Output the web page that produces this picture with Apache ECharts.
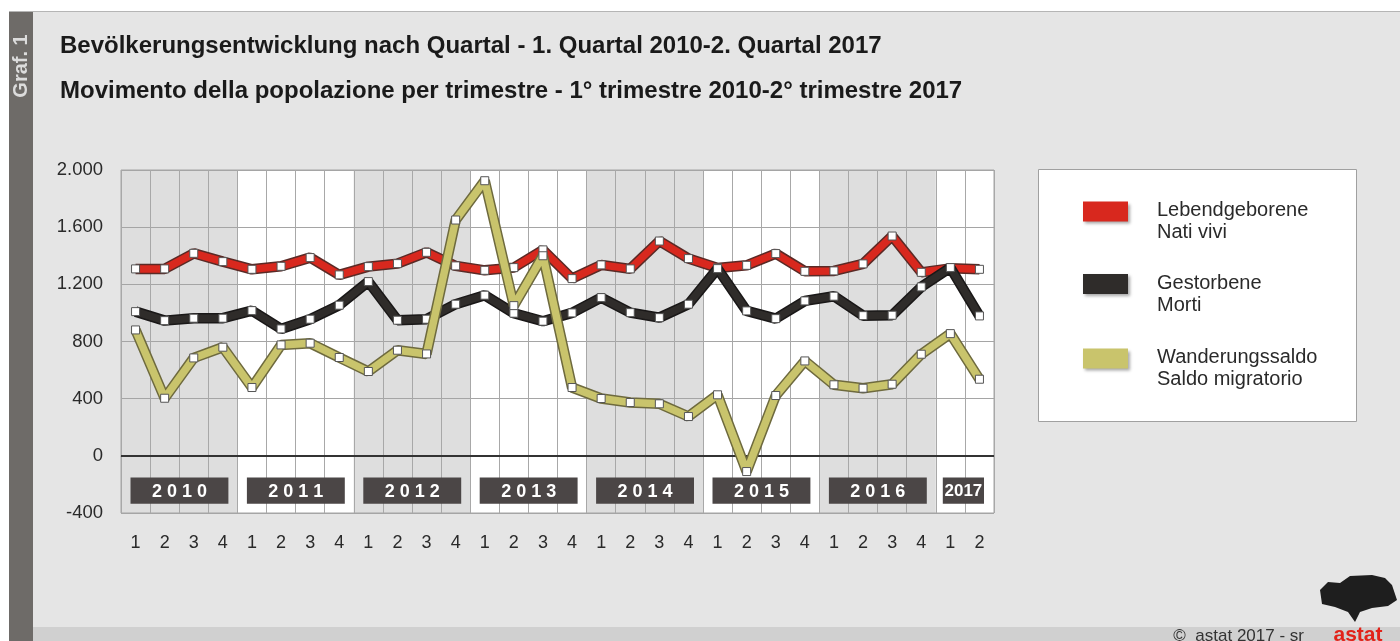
<!DOCTYPE html>
<html>
<head>
<meta charset="utf-8">
<script src="https://cdn.jsdelivr.net/npm/echarts@6/dist/echarts.min.js"></script>
<style>
html,body{margin:0;padding:0;background:#e5e5e5;}
#chart{width:1400px;height:641px;}
</style>
</head>
<body>
<div id="chart"></div>
<script>
// ---- data ----
var years = ['2010','2011','2012','2013','2014','2015','2016','2017'];
var quartersPerYear = [4,4,4,4,4,4,4,2];
var yearLabels = ['2 0 1 0','2 0 1 1','2 0 1 2','2 0 1 3','2 0 1 4','2 0 1 5','2 0 1 6','2017'];
var births = [1308,1308,1417,1359,1305,1326,1387,1266,1324,1345,1424,1329,1298,1317,1441,1240,1336,1308,1503,1380,1315,1333,1415,1291,1294,1343,1538,1284,1312,1305];
var deaths = [1009,946,963,963,1016,888,956,1054,1219,949,956,1061,1124,998,942,1000,1107,1002,967,1061,1310,1014,960,1084,1117,981,984,1182,1317,979];
var migration = [881,403,685,760,478,776,788,688,590,739,713,1650,1925,1051,1400,478,401,373,364,275,427,-110,422,664,497,473,501,711,855,536];
var yTicks = [-400,0,400,800,1200,1600,2000];
var seriesNames = [['Lebendgeborene','Nati vivi'],['Gestorbene','Morti'],['Wanderungssaldo','Saldo migratorio']];

// ---- build categories ----
var categories = [];
var yearSpans = [];
var idx = 0;
years.forEach(function(y, i){
  var start = idx;
  for (var q = 1; q <= quartersPerYear[i]; q++) { categories.push(y + '-' + q); idx++; }
  yearSpans.push([start, idx - 1, i]);
});

var chart = echarts.init(document.getElementById('chart'), null, {renderer:'canvas'});

var colors = ['#d8281e','#2f2c2a','#c9c46c'];
var outlines = ['#5a2a26','#1a1818','#6e6a3e'];
var datas = [births, deaths, migration];
var FONT = '"Liberation Sans", Arial, sans-serif';

function fmt(v){
  var s = Math.abs(v).toString();
  if (s.length > 3) s = s.slice(0, s.length-3) + '.' + s.slice(s.length-3);
  return (v < 0 ? '-' : '') + s;
}

var series = [];
// background year bands
series.push({
  type:'custom', z:-1, silent:true,
  data: yearSpans,
  renderItem: function(params, api){
    var s = api.value(0), e = api.value(1), k = api.value(2);
    var w = api.size([1,0])[0];
    var x0 = api.coord([s, 0])[0] - w/2;
    var x1 = api.coord([e, 0])[0] + w/2;
    var cs = params.coordSys;
    return {type:'rect', shape:{x:x0, y:cs.y, width:x1-x0, height:cs.height},
            style:{fill: (k % 2 === 0) ? '#dedede' : '#ffffff'}};
  }
});
// year label boxes
series.push({
  type:'custom', z:3, silent:true,
  data: yearSpans,
  renderItem: function(params, api){
    var s = api.value(0), e = api.value(1), k = api.value(2);
    var w = api.size([1,0])[0];
    var x0 = api.coord([s, 0])[0] - w/2;
    var x1 = api.coord([e, 0])[0] + w/2;
    var short = (e - s) < 3;
    var l = x0 + (short ? 7 : 9.5), r = x1 - (short ? 10 : 9);
    var yt = api.coord([s, -152])[1], yb = api.coord([s, -336])[1];
    return {type:'group', children:[
      {type:'rect', shape:{x:l, y:yt, width:r-l, height:yb-yt}, style:{fill:'#4b4646'}},
      {type:'text', style:{text: yearLabels[k], x:(l+r)/2, y:(yt+yb)/2 + 1, align:'center', verticalAlign:'middle',
        fill:'#ffffff', font:'bold ' + (short ? 17 : 18) + 'px ' + FONT}}
    ]};
  }
});

for (var i = 0; i < 3; i++) {
  series.push({
    type:'line', name: seriesNames[i][0] + '_outline', data: datas[i], z: 4 + i*2, silent:true,
    symbol:'none', lineStyle:{color: outlines[i], width: 10.5}, animation:false
  });
  var main = {
    type:'line', name: seriesNames[i][0], data: datas[i], z: 5 + i*2,
    symbol:'rect', symbolSize: 8, showSymbol: true,
    lineStyle:{color: colors[i], width: 7.5},
    itemStyle:{color:'#ffffff', borderColor:'#555', borderWidth:1},
    animation:false
  };
  if (i === 0) {
    main.markLine = {silent:true, symbol:'none', label:{show:false},
      lineStyle:{color:'#333', width:2, type:'solid'}, data:[{yAxis:0}], animation:false};
  }
  series.push(main);
}

// legend graphics
var legendChildren = [
  {type:'rect', shape:{x:1038.5, y:169.5, width:318, height:252}, style:{fill:'#ffffff', stroke:'#a0a0a0', lineWidth:1}}
];
var legTops = [201.5, 274, 348.5];
for (var j = 0; j < 3; j++) {
  legendChildren.push({type:'rect', shape:{x:1083, y:legTops[j], width:45, height:20},
    style:{fill: colors[j], shadowBlur:3, shadowOffsetX:2, shadowOffsetY:2, shadowColor:'rgba(0,0,0,0.35)'}});
  legendChildren.push({type:'text', style:{text: seriesNames[j][0], x:1157, y:legTops[j] + 9, verticalAlign:'middle',
    fill:'#2a2a2a', font:'20px ' + FONT}});
  legendChildren.push({type:'text', style:{text: seriesNames[j][1], x:1157, y:legTops[j] + 31, verticalAlign:'middle',
    fill:'#2a2a2a', font:'20px ' + FONT}});
}

var option = {
  backgroundColor:'#e5e5e5',
  animation:false,
  textStyle:{fontFamily: FONT},
  grid:{left:121, right:406, top:170, bottom:128, show:true, borderColor:'#a5a5a5', borderWidth:1, backgroundColor:'transparent'},
  xAxis:{
    type:'category', data: categories, boundaryGap:true,
    axisLine:{show:true, lineStyle:{color:'#a5a5a5'}},
    axisTick:{show:false},
    axisLabel:{interval:0, margin:21, fontSize:18, color:'#2a2a2a',
      formatter:function(v){ return v.split('-')[1]; }},
    splitLine:{show:true, interval:0, lineStyle:{color:'#a8a8a8', width:1}}
  },
  yAxis:{
    type:'value', min: yTicks[0], max: yTicks[yTicks.length-1], interval: 400,
    axisLine:{show:false}, axisTick:{show:false},
    axisLabel:{fontSize:18.5, color:'#2a2a2a', margin:18, formatter: fmt},
    splitLine:{show:true, lineStyle:{color:'#a5a5a5', width:1}}
  },
  series: series,
  graphic:[
    {type:'rect', z:100, shape:{x:0, y:0, width:1400, height:11}, style:{fill:'#ffffff'}},
    {type:'rect', z:100, shape:{x:0, y:11, width:1400, height:1}, style:{fill:'#b5b5b5'}},
    {type:'rect', z:100, shape:{x:0, y:11, width:9, height:630}, style:{fill:'#ffffff'}},
    {type:'rect', z:100, shape:{x:33, y:627, width:1367, height:14}, style:{fill:'#d0d0d0'}},
    {type:'rect', z:101, shape:{x:9, y:12, width:24, height:629}, style:{fill:'#6e6b68'}},
    {type:'text', z:102, x:21.5, y:66, rotation:Math.PI/2,
      style:{text:'Graf. 1', align:'center', verticalAlign:'middle', fill:'#dcdcdc',
        font:'bold 20px ' + FONT}},
    {type:'text', z:102, style:{text:'Bevölkerungsentwicklung nach Quartal - 1. Quartal 2010-2. Quartal 2017',
      x:60, y:46, verticalAlign:'middle', fill:'#1a1a1a', font:'bold 24px ' + FONT}},
    {type:'text', z:102, style:{text:'Movimento della popolazione per trimestre - 1° trimestre 2010-2° trimestre 2017',
      x:60, y:91, verticalAlign:'middle', fill:'#1a1a1a', font:'bold 24px ' + FONT}},
    {type:'group', z:102, children: legendChildren},
    {type:'text', z:103, style:{text:'©  astat 2017 - sr', x:1304, y:636, align:'right', verticalAlign:'middle',
      fill:'#333333', font:'17px ' + FONT}},
    {type:'polygon', z:103, shape:{points:[[1320,590],[1328,582],[1340,583],[1350,576],[1372,575],[1385,578],[1392,585],[1397,600],[1388,606],[1372,608],[1360,612],[1355,622],[1348,612],[1335,607],[1322,604]]},
      style:{fill:'#1e1e1e'}},
    {type:'text', z:103, style:{text:'astat', x:1358, y:635, align:'center', verticalAlign:'middle',
      fill:'#e2231a', font:'bold 21px ' + FONT}}
  ]
};
chart.setOption(option);
</script>
</body>
</html>
